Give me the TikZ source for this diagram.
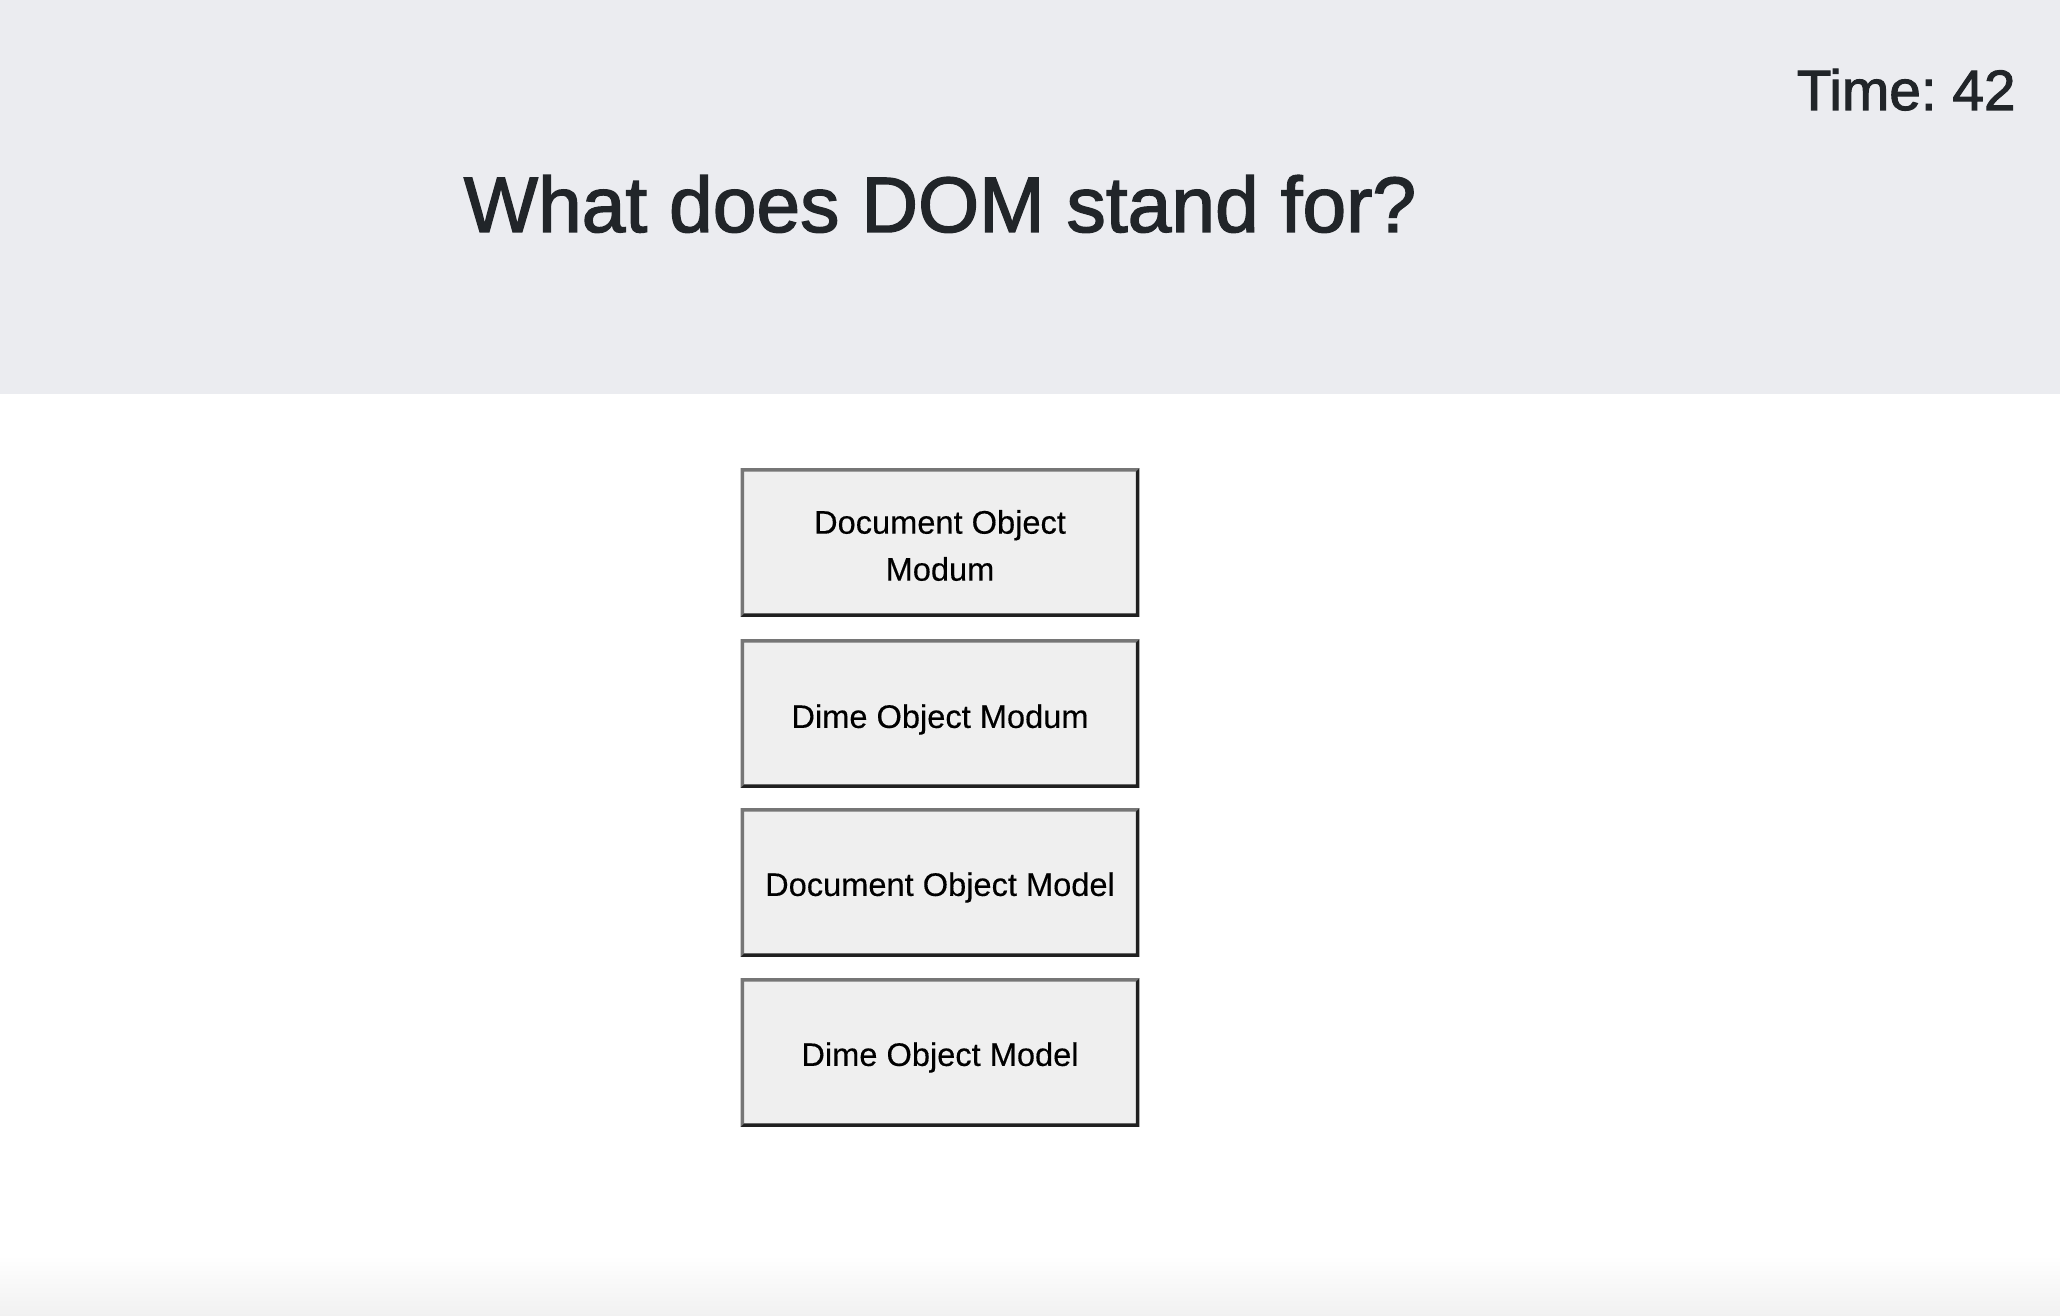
\documentclass[tikz,border=0pt]{standalone}
\usepackage{fontspec}
\setmainfont{Liberation Sans}
\newfontfamily\medfont[FakeBold=1.8]{Liberation Sans}
\newfontfamily\btnfont[FakeBold=0.3]{Liberation Sans}
\definecolor{headbg}{HTML}{EBECF0}
\definecolor{ink}{HTML}{212529}
\definecolor{btnfill}{HTML}{EFEFEF}
\definecolor{btnlight}{HTML}{767676}
\definecolor{btndark}{HTML}{202020}
\definecolor{footgrey}{HTML}{F1F1F1}
\tikzset{
  btnbox/.style={fill=btnfill, inner sep=0pt, minimum width=199pt, minimum height=74pt},
  btntext/.style={inner sep=0pt, align=center, text=black, font=\btnfont\fontsize{16.3}{23.5}\selectfont},
  titletext/.style={text=ink, inner sep=0pt, font=\medfont\fontsize{39.3}{46}\selectfont},
  timetext/.style={text=ink, inner sep=0pt, font=\medfont\fontsize{28.4}{34}\selectfont},
}
\newcommand{\btnborders}[1]{%
  \fill[btnlight] (#1.south west) -- (#1.north west) -- (#1.north east)
    -- ([shift={(-1.75pt,-1.75pt)}]#1.north east) -- ([shift={(1.75pt,-1.75pt)}]#1.north west)
    -- ([shift={(1.75pt,1.75pt)}]#1.south west) -- cycle;
  \fill[btndark] (#1.north east) -- (#1.south east) -- (#1.south west)
    -- ([shift={(1.75pt,1.75pt)}]#1.south west) -- ([shift={(-1.75pt,1.75pt)}]#1.south east)
    -- ([shift={(-1.75pt,-1.75pt)}]#1.north east) -- cycle;
}
\begin{document}
\frenchspacing
\begin{tikzpicture}[x=0.5pt,y=-0.5pt]
\useasboundingbox (0,0) rectangle (2060,1316);
\fill[white] (0,0) rectangle (2060,1316);
\fill[headbg] (0,0) rectangle (2060,394);
\shade[top color=white, bottom color=footgrey] (0,1255) rectangle (2060,1316);

\node[titletext, anchor=base] (title) at (940,232) {What does DOM stand for?};
\node[timetext, anchor=base east] (time) at (2016,110) {Time: 42};

\node[btnbox] (b1) at (940,542.5) {};
\node[btnbox] (b2) at (940,713.5) {};
\node[btnbox] (b3) at (940,882.5) {};
\node[btnbox] (b4) at (940,1052.5) {};
\btnborders{b1}
\btnborders{b2}
\btnborders{b3}
\btnborders{b4}
\node[btntext] (t1) at ([yshift=-1.5pt]b1.center) {Document Object\\Modum};
\node[btntext, anchor=base] (t2) at ([yshift=-7.2pt]b2.center) {Dime Object Modum};
\node[btntext, anchor=base] (t3) at ([yshift=-6.7pt]b3.center) {Document Object Model};
\node[btntext, anchor=base] (t4) at ([yshift=-6.7pt]b4.center) {Dime Object Model};
\end{tikzpicture}
\end{document}
